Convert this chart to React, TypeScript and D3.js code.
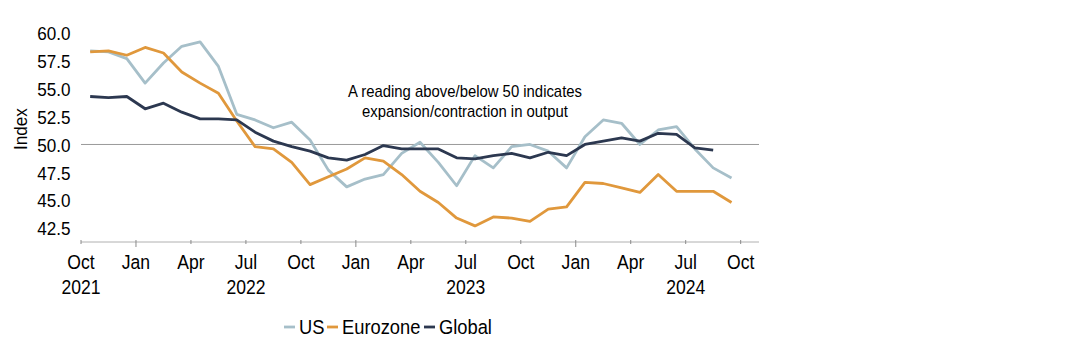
import React from "react";
import * as d3 from "d3";

const months: string[] = [
  "2021-10","2021-11","2021-12","2022-01","2022-02","2022-03","2022-04","2022-05","2022-06",
  "2022-07","2022-08","2022-09","2022-10","2022-11","2022-12","2023-01","2023-02","2023-03",
  "2023-04","2023-05","2023-06","2023-07","2023-08","2023-09","2023-10","2023-11","2023-12",
  "2024-01","2024-02","2024-03","2024-04","2024-05","2024-06","2024-07","2024-08","2024-09",
];

const usValues: number[] = [
  58.4, 58.3, 57.7, 55.5, 57.3, 58.8, 59.2, 57.0, 52.7, 52.2, 51.5, 52.0,
  50.4, 47.7, 46.2, 46.9, 47.3, 49.2, 50.2, 48.4, 46.3, 49.0, 47.9, 49.8,
  50.0, 49.4, 47.9, 50.7, 52.2, 51.9, 50.0, 51.3, 51.6, 49.6, 47.9, 47.0,
];

const eurozoneValues: number[] = [
  58.3, 58.4, 58.0, 58.7, 58.2, 56.5, 55.5, 54.6, 52.1, 49.8, 49.6, 48.4,
  46.4, 47.1, 47.8, 48.8, 48.5, 47.3, 45.8, 44.8, 43.4, 42.7, 43.5, 43.4,
  43.1, 44.2, 44.4, 46.6, 46.5, 46.1, 45.7, 47.3, 45.8, 45.8, 45.8, 44.8,
];

const globalValues: number[] = [
  54.3, 54.2, 54.3, 53.2, 53.7, 52.9, 52.3, 52.3, 52.2, 51.1, 50.3, 49.8,
  49.4, 48.8, 48.6, 49.1, 49.9, 49.6, 49.6, 49.6, 48.8, 48.7, 49.0, 49.2,
  48.8, 49.3, 49.0, 50.0, 50.3, 50.6, 50.3, 51.0, 50.9, 49.7, 49.5,
];

const yTicks: number[] = [42.5, 45.0, 47.5, 50.0, 52.5, 55.0, 57.5, 60.0];
const quarterLabels: string[] = ["Oct","Jan","Apr","Jul","Oct","Jan","Apr","Jul","Oct","Jan","Apr","Jul","Oct"];
const yearLabels: string[] = ["2021", "2022", "2023", "2024"];
const yearLabelMonthIndex: number[] = [0, 9, 21, 33];
const seriesNames: string[] = ["US", "Eurozone", "Global"];
const annotationLines: string[] = [
  "A reading above/below 50 indicates",
  "expansion/contraction in output",
];

const COLORS = ["#a6bfc9", "#e0983c", "#2c3850"];
const FONT = "'Liberation Sans', Arial, sans-serif";

function T(props: {
  x: number;
  y: number;
  size: number;
  sx: number;
  anchor?: "start" | "middle" | "end";
  rotate?: number;
  baseline?: string;
  children: React.ReactNode;
}) {
  const { x, y, size, sx, anchor = "start", rotate = 0, baseline = "central", children } = props;
  return (
    <g transform={`translate(${x},${y}) rotate(${rotate}) scale(${sx},1)`}>
      <text
        x={0}
        y={0}
        textAnchor={anchor}
        dominantBaseline={baseline}
        fontSize={size}
        fill="#000"
      >
        {children}
      </text>
    </g>
  );
}

export default function App() {
  const x = d3.scaleLinear().domain([0, 37]).range([81, 759]);
  const y = d3.scaleLinear().domain([41.3, 61]).range([241.5, 21.8]);

  const series = [usValues, eurozoneValues, globalValues];
  const line = d3
    .line<number>()
    .x((_, i) => x(i + 0.5))
    .y((d) => y(d));

  const quarterTicks = d3.range(0, 37, 3);
  const axisY = 242;

  const legendItems = [
    { swatch: 284, text: 299 },
    { swatch: 327, text: 342 },
    { swatch: 424, text: 439 },
  ];

  return (
    <div style={{ position: "absolute", left: 0, top: 0 }}>
      <svg width={1088} height={360} style={{ display: "block", fontFamily: FONT }}>
        <rect width={1088} height={360} fill="#ffffff" />
        {yTicks.map((t) => (
          <T key={t} x={70.5} y={y(t) + 1} size={18} sx={0.95} anchor="end">
            {t.toFixed(1)}
          </T>
        ))}
        <T x={21} y={129} size={18} sx={0.95} anchor="middle" rotate={-90}>
          Index
        </T>
        <line x1={x(0)} x2={x(37)} y1={y(50)} y2={y(50)} stroke="#9a9a9a" strokeWidth={1} />
        <line x1={x(0)} x2={x(37)} y1={axisY} y2={axisY} stroke="#b0b0b0" strokeWidth={1} />
        {quarterTicks.map((t) => {
          const isJan = months[t] ? months[t].endsWith("-01") : false;
          return (
            <line
              key={t}
              x1={x(t)}
              x2={x(t)}
              y1={axisY - 2}
              y2={axisY + (isJan ? 5 : 2)}
              stroke="#8a8a8a"
              strokeWidth={1}
            />
          );
        })}
        {quarterTicks.map((t, k) => (
          <T key={"q" + t} x={x(t)} y={262} size={19.5} sx={0.9} anchor="middle">
            {quarterLabels[k]}
          </T>
        ))}
        {yearLabels.map((yl, k) => (
          <T key={yl} x={x(yearLabelMonthIndex[k])} y={287.5} size={19.5} sx={0.9} anchor="middle">
            {yl}
          </T>
        ))}
        {annotationLines.map((t, k) => (
          <T key={t} x={465} y={97 + k * 20} size={16} sx={0.93} anchor="middle" baseline="auto">
            {t}
          </T>
        ))}
        {series.map((s, k) => (
          <path
            key={seriesNames[k]}
            d={line(s) || ""}
            fill="none"
            stroke={COLORS[k]}
            strokeWidth={2.8}
            strokeLinejoin="round"
          />
        ))}
        {seriesNames.map((n, k) => (
          <g key={n}>
            <line
              x1={legendItems[k].swatch}
              x2={legendItems[k].swatch + 11}
              y1={327}
              y2={327}
              stroke={COLORS[k]}
              strokeWidth={2.8}
            />
            <T x={legendItems[k].text} y={327} size={19.5} sx={0.94}>
              {n}
            </T>
          </g>
        ))}
      </svg>
    </div>
  );
}
